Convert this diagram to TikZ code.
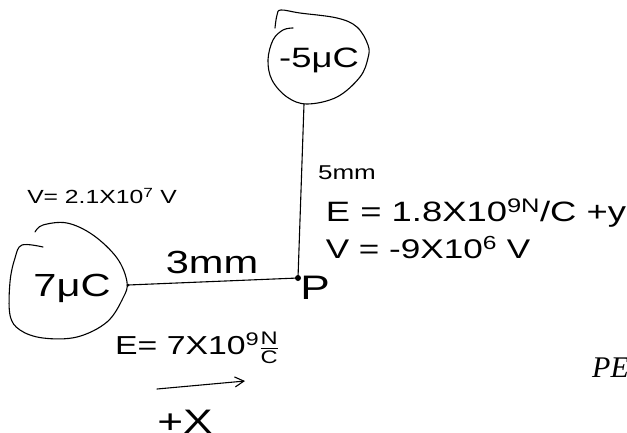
\documentclass[tikz,border=0pt]{standalone}
\usepackage{fontspec}
\usepackage{amsmath}
\setmainfont{Liberation Sans}
\newfontfamily\handfont[FakeStretch=1.3]{Liberation Sans}
\newfontfamily\printfont{Liberation Serif}
\newcommand{\hs}[1]{\handfont\fontsize{#1}{#1}\selectfont}
\usetikzlibrary{arrows.meta}

\begin{document}
\begin{tikzpicture}[
    x=1pt, y=-1pt,
    every node/.style={font=\hs{22}, inner sep=0pt},
    blob/.style={line width=1.1pt, line join=round, line cap=round},
    wire/.style={line width=1.1pt, line cap=round},
  ]
  \useasboundingbox (0,0) rectangle (627,432);

  % Charges
  \draw[blob] plot[smooth, tension=0.6] coordinates {(275,28) (277,15) (281,10) (300,13) (337,18) (357,27) (368,45) (368,58) (360,77) (337,97) (307,104) (287,97) (272,80) (268,60) (273,40) (283,30) (293,28)};
  \draw[blob] plot[smooth, tension=0.6] coordinates {(43,247) (22,245) (15,258) (10,282) (10,315) (20,330) (43,338) (77,337) (107,322) (123,298) (127,282) (117,258) (93,235) (67,223) (43,225) (35,232)};
  \node[font=\hs{28}] (qtop) at (319,60) {-5μC};
  \node[font=\hs{32}] (qleft) at (72,288) {7μC};
  \coordinate (qtop-out) at (304,104);
  \coordinate (qleft-out) at (128,285);

  % Point P
  \coordinate (P) at (298,278);
  \draw[wire] (qtop-out) -- (P);
  \draw[wire] (qleft-out) -- (P);
  \fill (P) circle (3);
  \fill (qleft-out) circle (1.5);
  \node[font=\hs{34}] (plabel) at (315,288) {P};

  % Labels
  \node[font=\hs{19}] (vleft) at (102,196) {V= 2.1X10\textsuperscript{7} V};
  \node[font=\hs{32}] (dleft) at (212,262) {3mm};
  \node[font=\hs{26}] (eleft) at (197,348) {E= 7X10\textsuperscript{9}$\frac{\text{N}}{\text{C}}$};
  \node[font=\hs{20}] (dtop) at (347,173) {5mm};
  \node[font=\hs{28}] (etop) at (476,213) {E = 1.8X10\textsuperscript{9N}/C +y};
  \node[font=\hs{27}] (vtop) at (428,248) {V = -9X10\textsuperscript{6} V};

  % Direction
  \coordinate (xarrow-start) at (157,389);
  \coordinate (xarrow-end) at (245,381);
  \draw[wire, -{Straight Barb[length=9pt, width=10pt]}] (xarrow-start) -- (xarrow-end);
  \node[font=\hs{34}, anchor=base] (xdir) at (185,433) {+X};

  \node[font=\printfont\itshape\fontsize{30}{30}\selectfont, anchor=base west] (pe) at (592,377) {PE};
\end{tikzpicture}
\end{document}
